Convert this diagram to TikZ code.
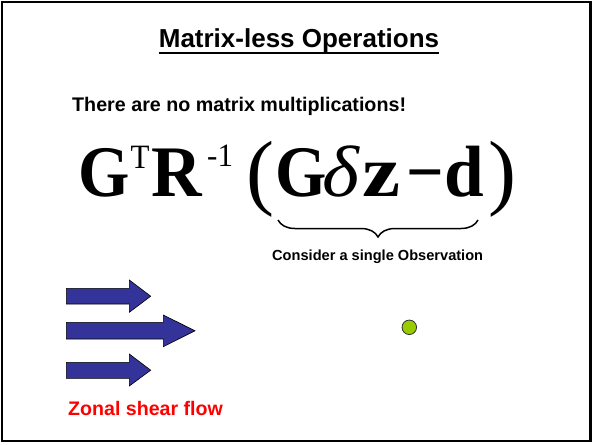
\documentclass[tikz,border=0pt]{standalone}
\usepackage{fontspec}
\setmainfont{Liberation Sans}
\newfontfamily\eqfont{Liberation Serif}
\usetikzlibrary{decorations.pathreplacing}
\definecolor{arrowblue}{RGB}{51,51,153}
\definecolor{dotgreen}{RGB}{153,204,0}
\definecolor{zonalred}{RGB}{255,0,0}
\tikzset{
  txt/.style={inner sep=0pt, anchor=base west},
  eqbig/.style={inner sep=0pt, anchor=base west, font=\eqfont\fontsize{66}{70}\selectfont\bfseries},
  eqital/.style={inner sep=0pt, anchor=base west, font=\eqfont\fontsize{66}{70}\selectfont\itshape},
  eqsmall/.style={inner sep=0pt, anchor=base west, font=\eqfont\fontsize{31}{34}\selectfont},
  eqparen/.style={inner sep=0pt, anchor=base west, font=\eqfont\fontsize{84}{90}\selectfont},
  flowarrow/.style={fill=arrowblue, draw=black, line width=0.6pt, line join=miter},
}
\begin{document}
\begin{tikzpicture}[x=1pt,y=-1pt]
\useasboundingbox (0,0) rectangle (593,444);
\draw[line width=2.2pt] (1.8,1.8) rectangle (590.5,441.2);

% title
\node[txt, anchor=base, font=\fontsize{26}{30}\selectfont\bfseries] (title) at (299,48) {Matrix-less Operations};
\draw[line width=2pt] ([yshift=-4.5pt]title.base west) -- ([yshift=-4.5pt]title.base east);

\node[txt, font=\fontsize{19.7}{24}\selectfont\bfseries] (note) at (72,111) {There are no matrix multiplications!};

% equation
\node[eqbig] (g1) at (78,196) {\scalebox{1}[1.1]{G}};
\node[eqsmall] (tr) at (130.5,168) {\scalebox{1}[1.1]{T}};
\node[eqbig] (r) at (151,196) {\scalebox{1.06}[1.1]{R}};
\node[eqsmall] (inv) at (207,166) {\scalebox{1}[1.05]{-1}};
\node[eqparen] (lp) at (246,199) {(};
\node[eqbig] (g2) at (275,196) {\scalebox{1}[1.1]{G}};
\node[eqital] (delta) at (322,196) {\scalebox{1.2}[1.1]{δ}};
\node[eqbig] (z) at (362,196) {\scalebox{1.3}[1.1]{z}};
\node[eqbig] (minus) at (406,196) {\scalebox{1}[1.1]{−}};
\node[eqbig] (d) at (444,196) {\scalebox{1.08}[1.1]{d}};
\node[eqparen] (rp) at (488,199) {)};

\coordinate (bl) at (278,220);
\coordinate (br) at (478,220);
\draw[line width=1.5pt, decorate, decoration={brace, mirror, amplitude=17pt}] (bl) -- (br);

\node[txt, font=\fontsize{14.6}{18}\selectfont\bfseries] (obs) at (272,260.5) {Consider a single Observation};

% arrows
\draw[flowarrow] (66.3,288.3) -- (129.3,288.3) -- (129.3,280) -- (150.7,296.2) -- (129.3,312.3) -- (129.3,304) -- (66.3,304) -- cycle;
\draw[flowarrow] (66.3,322.3) -- (163.3,322.3) -- (163.3,315) -- (195,330.8) -- (163.3,346.7) -- (163.3,339) -- (66.3,339) -- cycle;
\draw[flowarrow] (66.3,362.3) -- (129.3,362.3) -- (129.3,354) -- (150.7,370.2) -- (129.3,386) -- (129.3,378.3) -- (66.3,378.3) -- cycle;

\node[txt, text=zonalred, font=\fontsize{19.6}{24}\selectfont\bfseries] (zonal) at (68,415.7) {Zonal shear flow};

\node[circle, fill=dotgreen, draw=black!80, line width=0.8pt, minimum size=14.5pt, inner sep=0pt] (dot) at (409.3,327.3) {};
\end{tikzpicture}
\end{document}
